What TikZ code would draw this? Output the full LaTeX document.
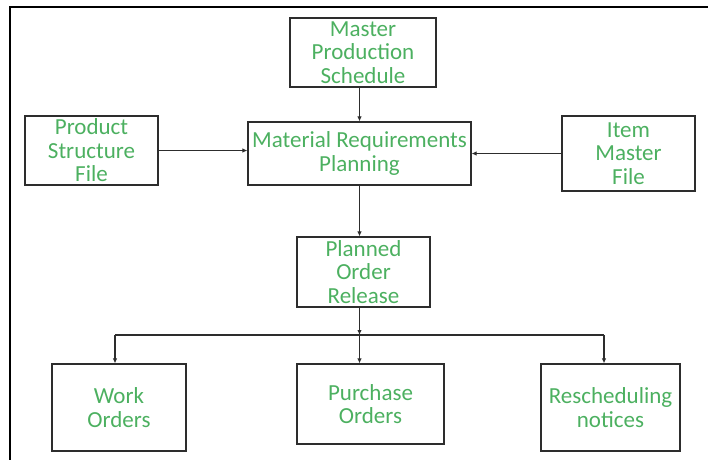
\documentclass[tikz,border=0pt]{standalone}
\usepackage{fontspec}
\setmainfont{Carlito}
\usetikzlibrary{arrows.meta}
\definecolor{labelgreen}{RGB}{76,176,96}
\definecolor{edgegray}{RGB}{45,45,45}

\begin{document}
\begin{tikzpicture}[x=1pt,y=-1pt,
  box/.style={draw=edgegray, line width=1.2pt, text=labelgreen, align=center,
    font=\fontsize{23}{23.5}\selectfont, inner sep=0pt},
  link/.style={draw=edgegray, line width=1.1pt, -{Latex[length=5pt,width=4.5pt]}},
  wire/.style={draw=edgegray, line width=1.1pt}]
  \useasboundingbox (0,0) rectangle (708,459);
  % outer frame
  \draw[line width=2.2pt] (10,470) -- (10,7) -- (720,7);

  % boxes
  \node[box, minimum width=146, minimum height=69] (mps) at (363,52.5) {Master\\Production\\Schedule};
  \node[box, minimum width=133, minimum height=69] (psf) at (91.5,150.5) {Product\\Structure\\File};
  \node[box, minimum width=223, minimum height=63] (mrp) at (359.5,153.5) {Material Requirements\\Planning};
  \node[box, minimum width=133, minimum height=75] (imf) at (628.5,153.5) {Item\\Master\\File};
  \node[box, minimum width=133, minimum height=70] (por) at (363.5,272) {Planned\\Order\\Release};
  \node[box, minimum width=134, minimum height=87] (wo) at (119,407.5) {Work\\Orders};
  \node[box, minimum width=147, minimum height=80] (po) at (370.5,404) {Purchase\\Orders};
  \node[box, minimum width=139, minimum height=87] (rn) at (610.5,407.5) {Rescheduling\\notices};

  % inputs to MRP
  \draw[link] (mps.south -| mrp.north) -- (mrp.north);
  \draw[link] (psf.east) -- (psf.east -| mrp.west);
  \draw[link] (imf.west) -- (imf.west -| mrp.east);
  \draw[link] (mrp.south) -- (mrp.south |- por.north);

  % distribution bus
  \coordinate (bus) at (359.5,335);
  \coordinate (busL) at (115,335);
  \coordinate (busR) at (604,335);
  \draw[link] (mrp.south |- por.south) -- (bus);
  \draw[link] (bus) -- (bus |- po.north);
  \draw[wire] (busL) -- (busR);
  \draw[link] (busL) -- (busL |- wo.north);
  \draw[link] (busR) -- (busR |- rn.north);
\end{tikzpicture}
\end{document}
